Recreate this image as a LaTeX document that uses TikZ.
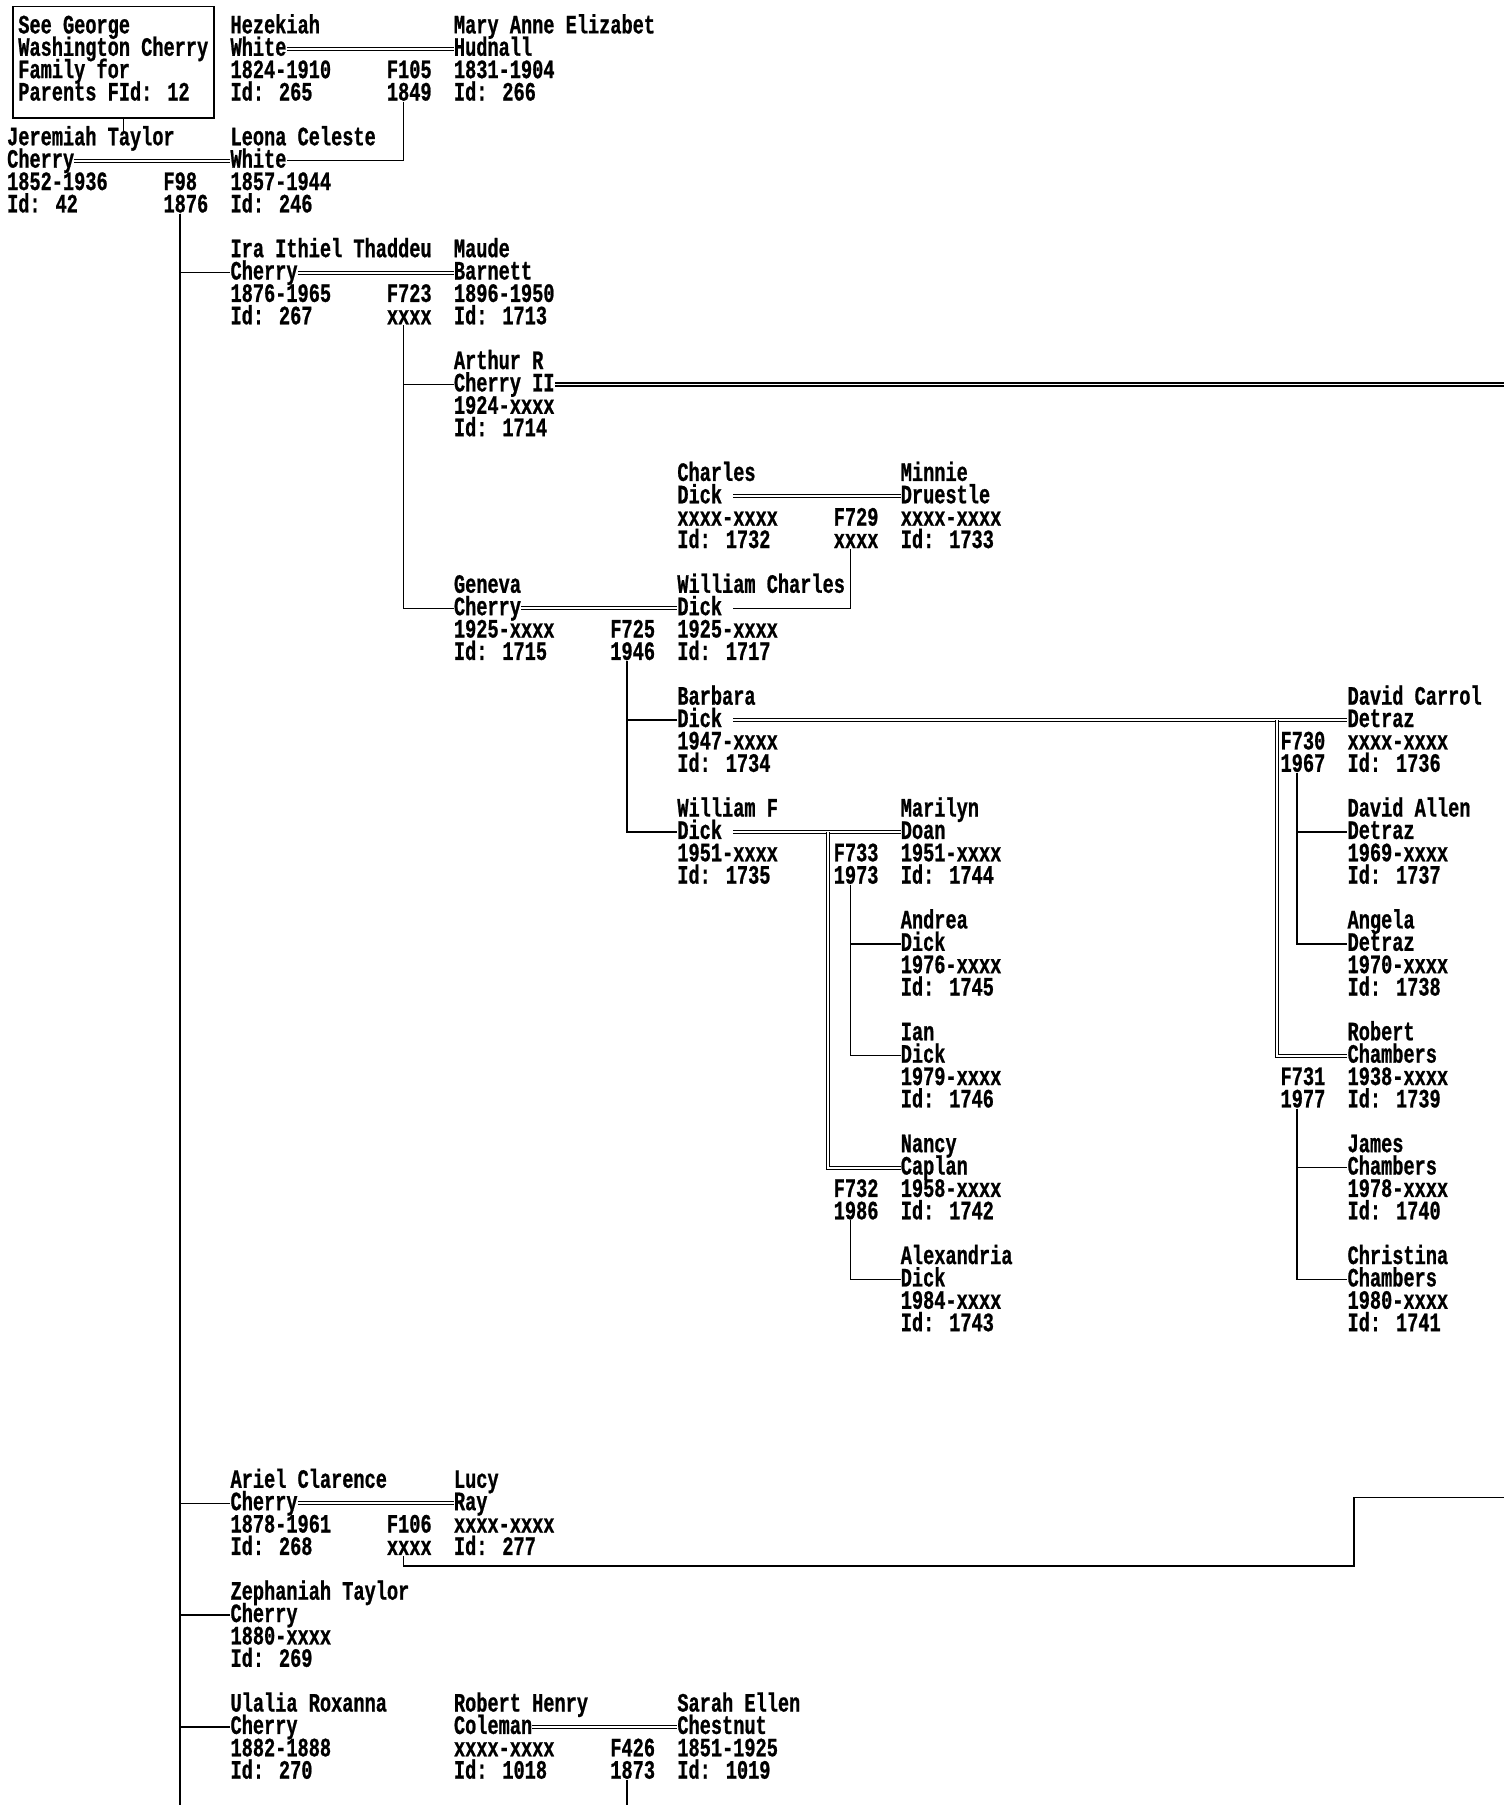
\documentclass[tikz,border=0pt]{standalone}
\usepackage{fontspec}
\newfontfamily\pf[FakeStretch=0.703,FakeBold=0.8]{Liberation Mono}
\newcommand\per[7]{%
  \node[txt] (#1a) at (#2,#3+0.36) {#4};
  \node[txt] (#1b) at (#2,#3+1.36) {#5};
  \node[txt] (#1c) at (#2,#3+2.36) {#6};
  \node[txt] (#1d) at (#2,#3+3.36) {#7};
  \coordinate (#1L) at ([yshift=6pt]#1b.base west);
  \coordinate (#1R) at ([yshift=6pt]#1b.base east);
}
\newcommand\famlab[5]{%
  \node[txt] (#1a) at (#2,#3+0.36) {#4};
  \node[txt] (#1b) at (#2,#3+1.36) {#5};
  \coordinate (#1v) at ([xshift=14.55pt,yshift=-1pt]#1b.base west);
}
\newcommand\gapcell{\hphantom{x}}
\begin{document}
\begin{tikzpicture}[x=9.7pt,y=-19.43pt,
  txt/.style={anchor=base west,inner sep=0pt,text height=13pt,text depth=3pt,font=\pf\bfseries\fontsize{23}{23}\selectfont},
  ln/.style={line width=1.2pt},
  dbl/.style={double,double distance=1.6pt,line width=0.95pt}]
\useasboundingbox[fill=white] (-0.6186,-1.1323) rectangle (134.02,79.537);
\coordinate (bottom) at (0,79.7);
\coordinate (edge) at (134.2,0);

% note box
\node[draw,line width=1.3pt,anchor=north west,inner sep=0pt,minimum width=174.3pt,minimum height=97pt] (seebox) at (0.485,-0.875) {};
\node[txt] (see1) at (1,0.36) {See George};
\node[txt] (see2) at (1,1.36) {Washington Cherry};
\node[txt] (see3) at (1,2.36) {Family for};
\node[txt] (see4) at (1,3.36) {Parents FId: 12};
\coordinate (jt) at (10.41,4.75);
\draw[ln] (seebox.south -| jt) -- (jt);

% generation 1
\per{hez}{20}{0}{Hezekiah}{White}{1824-1910}{Id: 265}
\per{mary}{40}{0}{Mary Anne Elizabet}{Hudnall}{1831-1904}{Id: 266}
\famlab{fa}{34}{2}{F105}{1849}
\per{jer}{0}{5}{Jeremiah Taylor}{Cherry}{1852-1936}{Id: 42}
\per{leona}{20}{5}{Leona Celeste}{White}{1857-1944}{Id: 246}
\famlab{fb}{14}{7}{F98}{1876}
\draw[dbl] (hezR) -- (maryL);
\draw[ln] (fav) |- (leonaR);
\draw[dbl] (jerR) -- (leonaL);

% children of F98
\per{ira}{20}{10}{Ira Ithiel Thaddeu}{Cherry}{1876-1965}{Id: 267}
\per{maude}{40}{10}{Maude}{Barnett}{1896-1950}{Id: 1713}
\famlab{fc}{34}{12}{F723}{xxxx}
\per{ariel}{20}{65}{Ariel Clarence}{Cherry}{1878-1961}{Id: 268}
\per{lucy}{40}{65}{Lucy}{Ray}{xxxx-xxxx}{Id: 277}
\famlab{fd}{34}{67}{F106}{xxxx}
\per{zeph}{20}{70}{Zephaniah Taylor}{Cherry}{1880-xxxx}{Id: 269}
\per{ulal}{20}{75}{Ulalia Roxanna}{Cherry}{1882-1888}{Id: 270}
\per{robh}{40}{75}{Robert Henry}{Coleman}{xxxx-xxxx}{Id: 1018}
\per{sarah}{60}{75}{Sarah Ellen}{Chestnut}{1851-1925}{Id: 1019}
\famlab{fe}{54}{77}{F426}{1873}
\draw[ln] (fbv) -- (fbv |- bottom);
\draw[ln] (fbv) |- (iraL);
\draw[ln] (fbv) |- (arielL);
\draw[ln] (fbv) |- (zephL);
\draw[ln] (fbv) |- (ulalL);
\draw[dbl] (iraR) -- (maudeL);
\draw[dbl] (arielR) -- (lucyL);
\draw[dbl] (robhR) -- (sarahL);
\draw[ln] (fev) -- (fev |- bottom);
\coordinate (fdp) at (120.6,68.86);
\coordinate (fdq) at (134.2,65.8);
\draw[ln] (fdv) |- (fdp) |- (fdq);

% children of F723
\per{arth}{40}{15}{Arthur R}{Cherry II}{1924-xxxx}{Id: 1714}
\per{gen}{40}{25}{Geneva}{Cherry}{1925-xxxx}{Id: 1715}
\draw[ln] (fcv) |- (arthL);
\draw[ln] (fcv) |- (genL);
\draw[dbl] (arthR) -- (arthR -| edge);

% Dick family
\per{chas}{60}{20}{Charles}{Dick\gapcell}{xxxx-xxxx}{Id: 1732}
\per{minn}{80}{20}{Minnie}{Druestle}{xxxx-xxxx}{Id: 1733}
\famlab{ff}{74}{22}{F729}{xxxx}
\per{wc}{60}{25}{William Charles}{Dick\gapcell}{1925-xxxx}{Id: 1717}
\famlab{fg}{54}{27}{F725}{1946}
\draw[dbl] (chasR) -- (minnL);
\draw[ln] (ffv) |- (wcR);
\draw[dbl] (genR) -- (wcL);

% children of F725
\per{barb}{60}{30}{Barbara}{Dick\gapcell}{1947-xxxx}{Id: 1734}
\per{wf}{60}{35}{William F}{Dick\gapcell}{1951-xxxx}{Id: 1735}
\draw[ln] (fgv) |- (barbL);
\draw[ln] (fgv) |- (wfL);

% Barbara's families
\per{dc}{120}{30}{David Carrol}{Detraz}{xxxx-xxxx}{Id: 1736}
\famlab{fh}{114}{32}{F730}{1967}
\per{da}{120}{35}{David Allen}{Detraz}{1969-xxxx}{Id: 1737}
\per{ang}{120}{40}{Angela}{Detraz}{1970-xxxx}{Id: 1738}
\per{robc}{120}{45}{Robert}{Chambers}{1938-xxxx}{Id: 1739}
\famlab{fi}{114}{47}{F731}{1977}
\per{jam}{120}{50}{James}{Chambers}{1978-xxxx}{Id: 1740}
\per{chr}{120}{55}{Christina}{Chambers}{1980-xxxx}{Id: 1741}
\coordinate (bx) at (113.7,0);
\draw[dbl] (barbR) -- (dcL);
\draw[dbl] (barbR -| bx) |- (robcL);
\draw[ln] (fhv) |- (daL);
\draw[ln] (fhv) |- (angL);
\draw[ln] (fiv) |- (jamL);
\draw[ln] (fiv) |- (chrL);

% William F's families
\per{mar}{80}{35}{Marilyn}{Doan}{1951-xxxx}{Id: 1744}
\famlab{fj}{74}{37}{F733}{1973}
\per{and}{80}{40}{Andrea}{Dick}{1976-xxxx}{Id: 1745}
\per{ian}{80}{45}{Ian}{Dick}{1979-xxxx}{Id: 1746}
\per{nan}{80}{50}{Nancy}{Caplan}{1958-xxxx}{Id: 1742}
\famlab{fk}{74}{52}{F732}{1986}
\per{alx}{80}{55}{Alexandria}{Dick}{1984-xxxx}{Id: 1743}
\coordinate (wx) at (73.5,0);
\draw[dbl] (wfR) -- (marL);
\draw[dbl] (wfR -| wx) |- (nanL);
\draw[ln] (fjv) |- (andL);
\draw[ln] (fjv) |- (ianL);
\draw[ln] (fkv) |- (alxL);
\end{tikzpicture}
\end{document}
